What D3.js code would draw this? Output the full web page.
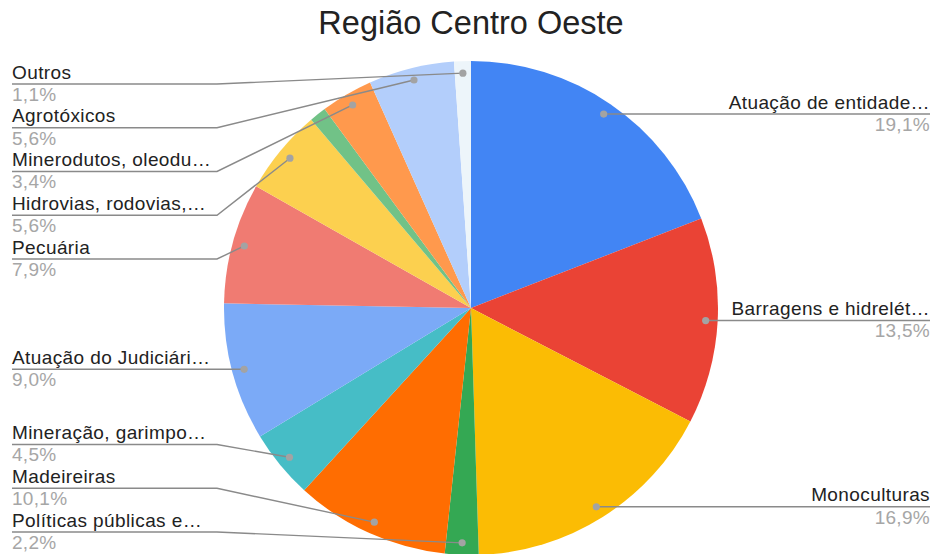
<!DOCTYPE html>
<html>
<head>
<meta charset="utf-8">
<script src="https://cdn.jsdelivr.net/npm/d3@7"></script>
<style>
  html, body { margin: 0; padding: 0; background: #fff; }
  svg { display: block; font-family: "Liberation Sans", Arial, sans-serif; }
</style>
</head>
<body>
<svg id="chart" width="934" height="554"></svg>
<script>
const title = "Região Centro Oeste";
const categories = [
  "Atuação de entidade…",
  "Barragens e hidrelét…",
  "Monoculturas",
  "Políticas públicas e…",
  "Madeireiras",
  "Mineração, garimpo…",
  "Atuação do Judiciári…",
  "Pecuária",
  "Hidrovias, rodovias,…",
  "",
  "Minerodutos, oleodu…",
  "Agrotóxicos",
  "Outros"
];
const values = [19.1, 13.5, 16.9, 2.2, 10.1, 4.5, 9.0, 7.9, 5.6, 1.1, 3.4, 5.6, 1.1];
const colors = ["#4285F4", "#EA4335", "#FBBC04", "#34A853", "#FF6D01", "#46BDC6",
                "#7BAAF7", "#F07B72", "#FCD04F", "#71C287", "#FF994D", "#B3CEFB", "#EDF5FA"];

const W = 934, H = 554;
const cx = 471, cy = 308, R = 247;
const dotR = 235;
const svg = d3.select("#chart");

svg.append("text")
  .attr("x", cx).attr("y", 34)
  .attr("text-anchor", "middle")
  .attr("font-size", 32.5)
  .attr("fill", "#222")
  .text(title);

const data = categories.map((c, i) => ({ name: c, value: values[i], color: colors[i], i }));
const pie = d3.pie().sort(null).value(d => d.value);
const arcs = pie(data);
const arc = d3.arc().innerRadius(0).outerRadius(R);

const g = svg.append("g").attr("transform", `translate(${cx},${cy})`);
g.selectAll("path.slice").data(arcs).enter().append("path")
  .attr("class", "slice")
  .attr("d", arc)
  .attr("fill", d => d.data.color);

const total = d3.sum(values);
const fmt = v => (v / total * 100).toFixed(1).replace(".", ",") + "%";

const labels = arcs.filter(a => a.data.name !== "").map(a => {
  const m = (a.startAngle + a.endAngle) / 2;
  const dx = cx + dotR * Math.sin(m), dy = cy - dotR * Math.cos(m);
  return { a, dx, dy, side: dx < cx ? "left" : "right", y: dy };
});

const minY = 84, maxY = 532, gap = 43.75;
["left", "right"].forEach(side => {
  const L = labels.filter(l => l.side === side).sort((p, q) => p.dy - q.dy);
  L.forEach(l => l.y = Math.max(minY, Math.min(maxY, l.dy)));
  for (let k = 1; k < L.length; k++) L[k].y = Math.max(L[k].y, L[k - 1].y + gap);
  if (L.length) L[L.length - 1].y = Math.min(L[L.length - 1].y, maxY);
  for (let k = L.length - 2; k >= 0; k--) L[k].y = Math.min(L[k].y, L[k + 1].y - gap);
});

const leftX = 12, leftBend = 217, rightX = 930;
const lineColor = "#8a8a8a";
labels.forEach(l => {
  let pts;
  if (l.side === "left") pts = [[leftX, l.y], [leftBend, l.y], [l.dx, l.dy]];
  else pts = [[l.dx, l.dy], [l.dx, l.y], [rightX, l.y]];
  svg.append("path")
    .attr("d", d3.line()(pts))
    .attr("fill", "none")
    .attr("stroke", lineColor)
    .attr("stroke-width", 1.4);
  svg.append("circle")
    .attr("cx", l.dx).attr("cy", l.dy).attr("r", 3.6)
    .attr("fill", "#a3a3a3");
  const tx = l.side === "left" ? leftX : rightX;
  const anchor = l.side === "left" ? "start" : "end";
  svg.append("text")
    .attr("x", tx).attr("y", l.y - 5.5)
    .attr("text-anchor", anchor)
    .attr("font-size", 19)
    .attr("letter-spacing", "0.4px")
    .attr("fill", "#222")
    .text(l.a.data.name);
  svg.append("text")
    .attr("x", tx).attr("y", l.y + 16.8)
    .attr("text-anchor", anchor)
    .attr("font-size", 19)
    .attr("letter-spacing", "0.3px")
    .attr("fill", "#a6a6a6")
    .text(fmt(l.a.data.value));
});
</script>
</body>
</html>
